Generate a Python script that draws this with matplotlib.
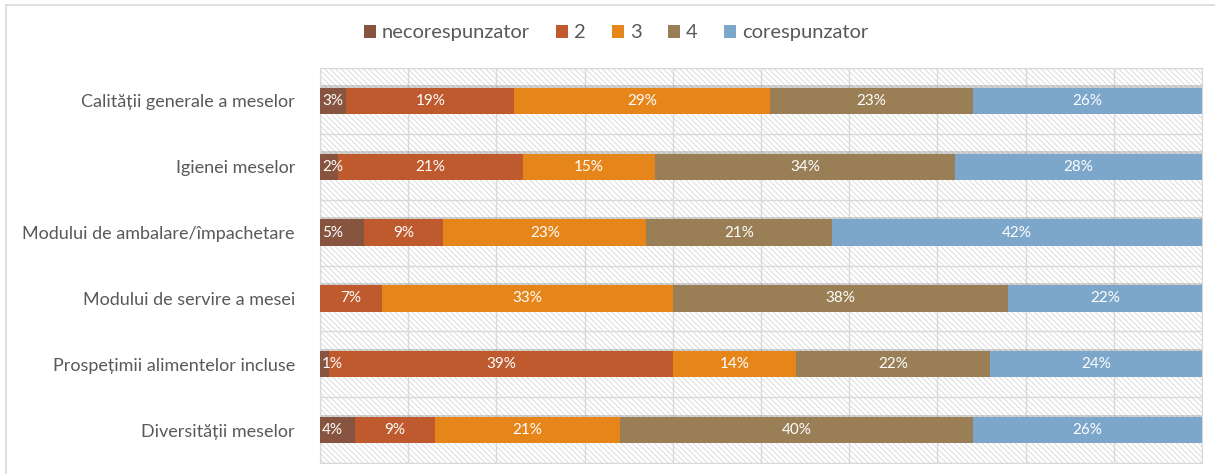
import matplotlib.pyplot as plt
from matplotlib.patches import Rectangle
from matplotlib.lines import Line2D
import numpy as np

plt.rcParams['font.family'] = ['Lato', 'DejaVu Sans']
plt.rcParams['hatch.linewidth'] = 0.6

# Datele graficului
categorii = ["Calității generale a meselor", "Igienei meselor",
             "Modului de ambalare/împachetare", "Modului de servire a mesei",
             "Prospețimii alimentelor incluse", "Diversității meselor"]
serii = ["necorespunzator", "2", "3", "4", "corespunzator"]
necorespunzator = [3, 2, 5, 0, 1, 4]
nota2 = [19, 21, 9, 7, 39, 9]
nota3 = [29, 15, 23, 33, 14, 21]
nota4 = [23, 34, 21, 38, 22, 40]
corespunzator = [26, 28, 42, 22, 24, 26]
culori = ["#87543F", "#BE5A2D", "#E6861A", "#9A7F56", "#7CA7CB"]

valori = [necorespunzator, nota2, nota3, nota4, corespunzator]

fig = plt.figure(figsize=(12.15, 4.74), dpi=100)
ax = fig.add_axes([320 / 1215, 1 - 463 / 474, 882 / 1215, 395 / 474])

# fundal hasurat
fundal = Rectangle((0, 0), 1, 1, transform=ax.transAxes, facecolor='white',
                   edgecolor='#d6d6d6', hatch='\\\\\\\\\\\\', linewidth=0, zorder=0)
ax.add_patch(fundal)

y = np.arange(len(categorii))
total = np.sum(valori, axis=0)

# umbra barelor
ax.barh(y - 0.025, total, height=0.42, color='#808080', alpha=0.35, zorder=2)

stanga = np.zeros(len(categorii))
for nume, val, culoare in zip(serii, valori, culori):
    val = np.array(val, dtype=float)
    ax.barh(y, val, left=stanga, height=0.4, color=culoare, label=nume, zorder=3)
    for yi, st, v in zip(y, stanga, val):
        if v <= 0:
            continue
        if v < 6:
            ax.text(st + 0.25, yi, f"{int(v)}%", ha='left', va='center',
                    color='white', fontsize=11, zorder=4)
        else:
            ax.text(st + v / 2, yi, f"{int(v)}%", ha='center', va='center',
                    color='white', fontsize=11, zorder=4)
    stanga += val

ax.set_xlim(0, 100)
ax.set_ylim(len(categorii) - 0.5, -0.5)
ax.set_xticks(np.arange(0, 101, 10))
ax.set_xticklabels([])
ax.set_yticks(y)
ax.set_yticklabels(categorii, fontsize=13, color='#595959')
ax.set_yticks(np.arange(-0.5, len(categorii), 1), minor=True)
ax.tick_params(axis='both', which='both', length=0, pad=18)
ax.grid(axis='x', which='major', color='#d9d9d9', linewidth=1, zorder=1)
ax.grid(axis='y', which='minor', color='#d9d9d9', linewidth=1, zorder=1)
ax.set_axisbelow(True)
for s in ax.spines.values():
    s.set_color('#d9d9d9')

ax.legend(loc='center', bbox_to_anchor=((616 - 320) / 882, (463 - 33) / 395),
          ncol=5, frameon=False, fontsize=14.5, handlelength=0.6, handleheight=0.6,
          handletextpad=0.3, columnspacing=1.3, labelcolor='#595959')

# chenarul graficului
fig.add_artist(Line2D([6 / 1215, 6 / 1215], [0, 1 - 5 / 474], color='#d9d9d9', linewidth=1.2))
fig.add_artist(Line2D([6 / 1215, 1], [1 - 5 / 474, 1 - 5 / 474], color='#d9d9d9', linewidth=1.2))

plt.savefig('out.png', dpi=100)
